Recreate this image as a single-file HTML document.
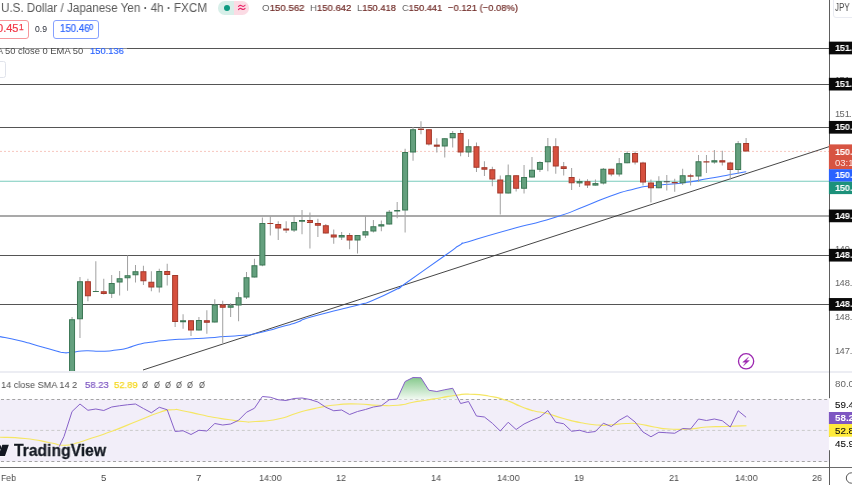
<!DOCTYPE html>
<html><head><meta charset="utf-8"><title>USDJPY chart</title>
<style>
html,body{margin:0;padding:0;background:#fff;}
body{width:852px;height:485px;overflow:hidden;position:relative;font-family:"Liberation Sans",sans-serif;}
#g{position:absolute;left:0;top:0;}
.t{position:absolute;white-space:nowrap;line-height:1;transform-origin:0 50%;will-change:transform;}
</style></head><body>
<svg id="g" width="852" height="485" viewBox="0 0 852 485">
<rect x="0" y="399.5" width="829" height="62.0" fill="#f2eef9"/>
<line x1="0" y1="48.5" x2="829" y2="48.5" stroke="#555" stroke-width="1.15"/>
<line x1="0" y1="84.5" x2="829" y2="84.5" stroke="#555" stroke-width="1.15"/>
<line x1="0" y1="127.5" x2="829" y2="127.5" stroke="#555" stroke-width="1.15"/>
<line x1="0" y1="216.0" x2="829" y2="216.0" stroke="#555" stroke-width="1.15"/>
<line x1="0" y1="255.5" x2="829" y2="255.5" stroke="#555" stroke-width="1.15"/>
<line x1="0" y1="304.5" x2="829" y2="304.5" stroke="#555" stroke-width="1.15"/>
<line x1="0" y1="181.3" x2="829" y2="181.3" stroke="#7acbbd" stroke-width="1.05"/>
<line x1="0" y1="151.4" x2="829" y2="151.4" stroke="#f7c6bf" stroke-width="1" stroke-dasharray="2 2"/>
<line x1="143" y1="369.99" x2="829.5" y2="146.53" stroke="#3c3c3c" stroke-width="0.95"/>
<path fill="none" stroke="#4379ff" stroke-width="1.05" stroke-linejoin="round" d="M0.00 336.60 C6.27 337.87 6.27 337.37 18.80 340.40 C31.33 343.43 25.10 342.20 37.60 345.70 C50.10 349.20 47.87 348.60 56.30 350.90 C64.73 353.20 58.50 352.03 62.90 352.60 C67.30 353.17 65.43 352.83 69.50 352.60 C73.57 352.37 69.47 352.53 75.10 351.90 C80.73 351.27 77.63 350.90 86.40 350.70 C95.17 350.50 91.40 351.53 101.40 351.30 C111.40 351.07 107.63 351.13 116.40 350.00 C125.17 348.87 120.17 349.80 127.70 347.90 C135.23 346.00 131.50 346.17 139.00 344.30 C146.50 342.43 140.27 343.73 150.20 342.30 C160.13 340.87 156.33 341.13 168.80 340.00 C181.27 338.87 175.10 339.60 187.60 338.90 C200.10 338.20 193.80 338.67 206.30 337.90 C218.80 337.13 212.57 337.47 225.10 336.60 C237.63 335.73 235.13 336.03 243.90 335.30 C252.67 334.57 243.90 335.83 251.40 334.40 C258.90 332.97 256.37 333.52 266.40 331.00 C276.43 328.48 271.47 329.68 281.50 326.85 C291.53 324.02 287.00 325.68 296.50 322.50 C306.00 319.32 295.50 321.63 310.00 317.30 C324.50 312.97 323.33 313.77 340.00 309.50 C356.67 305.23 349.17 307.50 360.00 304.50 C370.83 301.50 360.00 305.75 372.50 300.50 C385.00 295.25 386.67 294.33 397.50 288.75 C408.33 283.17 389.17 294.83 405.00 283.75 C420.83 272.67 426.67 268.42 445.00 255.50 C463.33 242.58 451.67 249.75 460.00 245.00 C468.33 240.25 453.33 246.42 470.00 241.25 C486.67 236.08 482.33 237.25 510.00 229.50 C537.67 221.75 528.00 225.75 553.00 218.00 C578.00 210.25 566.00 213.50 585.00 206.25 C604.00 199.00 593.33 202.08 610.00 196.25 C626.67 190.42 622.50 192.08 635.00 188.75 C647.50 185.42 639.17 187.50 647.50 186.25 C655.83 185.00 647.50 186.25 660.00 185.00 C672.50 183.75 668.33 184.75 685.00 182.50 C701.67 180.25 693.33 181.17 710.00 178.25 C726.67 175.33 722.92 175.92 735.00 173.75 C747.08 171.58 742.50 172.42 746.25 171.75"/>
<line x1="72.05" y1="317.0" x2="72.05" y2="372.0" stroke="#a0a0a0" stroke-width="1"/>
<rect x="69.55" y="319.75" width="5" height="51.75" fill="#64a07e" stroke="#3b7754" stroke-width="1"/>
<line x1="79.98" y1="277.0" x2="79.98" y2="338.0" stroke="#a0a0a0" stroke-width="1"/>
<rect x="77.48" y="281.75" width="5" height="37.0" fill="#64a07e" stroke="#3b7754" stroke-width="1"/>
<line x1="87.91" y1="278.75" x2="87.91" y2="301.25" stroke="#a0a0a0" stroke-width="1"/>
<rect x="85.41" y="281.75" width="5" height="14.0" fill="#d6503e" stroke="#a33a2c" stroke-width="1"/>
<line x1="95.84" y1="261.25" x2="95.84" y2="292.0" stroke="#a0a0a0" stroke-width="1"/>
<rect x="92.84" y="291.0" width="6" height="1.0" fill="#3b7754"/>
<line x1="103.77" y1="278.75" x2="103.77" y2="294.5" stroke="#a0a0a0" stroke-width="1"/>
<rect x="101.27" y="291.75" width="5" height="1.75" fill="#d6503e" stroke="#a33a2c" stroke-width="1"/>
<line x1="111.70" y1="275.0" x2="111.70" y2="298.0" stroke="#a0a0a0" stroke-width="1"/>
<rect x="109.20" y="283.5" width="5" height="9.75" fill="#64a07e" stroke="#3b7754" stroke-width="1"/>
<line x1="119.63" y1="271.0" x2="119.63" y2="295.5" stroke="#a0a0a0" stroke-width="1"/>
<rect x="117.13" y="278.75" width="5" height="3.25" fill="#64a07e" stroke="#3b7754" stroke-width="1"/>
<line x1="127.56" y1="255.5" x2="127.56" y2="290.75" stroke="#a0a0a0" stroke-width="1"/>
<rect x="125.06" y="275.75" width="5" height="2.0" fill="#64a07e" stroke="#3b7754" stroke-width="1"/>
<line x1="135.49" y1="265.0" x2="135.49" y2="282.5" stroke="#a0a0a0" stroke-width="1"/>
<rect x="132.99" y="271.75" width="5" height="3.0" fill="#64a07e" stroke="#3b7754" stroke-width="1"/>
<line x1="143.42" y1="265.75" x2="143.42" y2="285.0" stroke="#a0a0a0" stroke-width="1"/>
<rect x="140.92" y="271.75" width="5" height="9.0" fill="#d6503e" stroke="#a33a2c" stroke-width="1"/>
<line x1="151.35" y1="271.25" x2="151.35" y2="291.25" stroke="#a0a0a0" stroke-width="1"/>
<rect x="148.85" y="282.25" width="5" height="4.75" fill="#d6503e" stroke="#a33a2c" stroke-width="1"/>
<line x1="159.28" y1="268.75" x2="159.28" y2="292.5" stroke="#a0a0a0" stroke-width="1"/>
<rect x="156.78" y="271.5" width="5" height="15.5" fill="#64a07e" stroke="#3b7754" stroke-width="1"/>
<line x1="167.21" y1="263.75" x2="167.21" y2="285.5" stroke="#a0a0a0" stroke-width="1"/>
<rect x="164.71" y="271.5" width="5" height="3.0" fill="#d6503e" stroke="#a33a2c" stroke-width="1"/>
<line x1="175.14" y1="275.0" x2="175.14" y2="327.0" stroke="#a0a0a0" stroke-width="1"/>
<rect x="172.64" y="275.5" width="5" height="46.0" fill="#d6503e" stroke="#a33a2c" stroke-width="1"/>
<line x1="183.07" y1="314.25" x2="183.07" y2="328.75" stroke="#a0a0a0" stroke-width="1"/>
<rect x="180.07" y="320.25" width="6" height="2.0" fill="#3b7754"/>
<line x1="191.00" y1="320.25" x2="191.00" y2="336.0" stroke="#a0a0a0" stroke-width="1"/>
<rect x="188.50" y="320.75" width="5" height="9.25" fill="#d6503e" stroke="#a33a2c" stroke-width="1"/>
<line x1="198.93" y1="317.0" x2="198.93" y2="330.5" stroke="#a0a0a0" stroke-width="1"/>
<rect x="196.43" y="320.5" width="5" height="9.5" fill="#64a07e" stroke="#3b7754" stroke-width="1"/>
<line x1="206.86" y1="310.25" x2="206.86" y2="333.75" stroke="#a0a0a0" stroke-width="1"/>
<rect x="204.36" y="320.75" width="5" height="1.5" fill="#d6503e" stroke="#a33a2c" stroke-width="1"/>
<line x1="214.79" y1="299.25" x2="214.79" y2="322.5" stroke="#a0a0a0" stroke-width="1"/>
<rect x="212.29" y="305.0" width="5" height="17.0" fill="#64a07e" stroke="#3b7754" stroke-width="1"/>
<line x1="222.72" y1="300.75" x2="222.72" y2="343.0" stroke="#a0a0a0" stroke-width="1"/>
<rect x="220.22" y="305.0" width="5" height="2.25" fill="#d6503e" stroke="#a33a2c" stroke-width="1"/>
<line x1="230.65" y1="303.25" x2="230.65" y2="317.0" stroke="#a0a0a0" stroke-width="1"/>
<rect x="228.15" y="305.75" width="5" height="1.5" fill="#64a07e" stroke="#3b7754" stroke-width="1"/>
<line x1="238.58" y1="292.25" x2="238.58" y2="321.25" stroke="#a0a0a0" stroke-width="1"/>
<rect x="236.08" y="297.75" width="5" height="7.25" fill="#64a07e" stroke="#3b7754" stroke-width="1"/>
<line x1="246.51" y1="272.0" x2="246.51" y2="299.0" stroke="#a0a0a0" stroke-width="1"/>
<rect x="244.01" y="277.75" width="5" height="19.25" fill="#64a07e" stroke="#3b7754" stroke-width="1"/>
<line x1="254.44" y1="258.75" x2="254.44" y2="277.5" stroke="#a0a0a0" stroke-width="1"/>
<rect x="251.94" y="265.75" width="5" height="11.25" fill="#64a07e" stroke="#3b7754" stroke-width="1"/>
<line x1="262.37" y1="217.5" x2="262.37" y2="266.25" stroke="#a0a0a0" stroke-width="1"/>
<rect x="259.87" y="223.5" width="5" height="41.5" fill="#64a07e" stroke="#3b7754" stroke-width="1"/>
<line x1="270.30" y1="216.25" x2="270.30" y2="235.5" stroke="#a0a0a0" stroke-width="1"/>
<rect x="267.30" y="223.0" width="6" height="1.0" fill="#a33a2c"/>
<line x1="278.23" y1="221.25" x2="278.23" y2="240.0" stroke="#a0a0a0" stroke-width="1"/>
<rect x="275.73" y="224.5" width="5" height="3.5" fill="#d6503e" stroke="#a33a2c" stroke-width="1"/>
<line x1="286.16" y1="221.25" x2="286.16" y2="233.0" stroke="#a0a0a0" stroke-width="1"/>
<rect x="283.16" y="228.5" width="6" height="2.0" fill="#a33a2c"/>
<line x1="294.09" y1="215.75" x2="294.09" y2="232.0" stroke="#a0a0a0" stroke-width="1"/>
<rect x="291.59" y="222.5" width="5" height="7.5" fill="#64a07e" stroke="#3b7754" stroke-width="1"/>
<line x1="302.02" y1="210.0" x2="302.02" y2="234.25" stroke="#a0a0a0" stroke-width="1"/>
<rect x="299.02" y="220.0" width="6" height="1.75" fill="#3b7754"/>
<line x1="309.95" y1="212.5" x2="309.95" y2="248.5" stroke="#a0a0a0" stroke-width="1"/>
<rect x="307.45" y="220.5" width="5" height="2.0" fill="#d6503e" stroke="#a33a2c" stroke-width="1"/>
<line x1="317.88" y1="218.75" x2="317.88" y2="237.0" stroke="#a0a0a0" stroke-width="1"/>
<rect x="315.38" y="223.5" width="5" height="1.75" fill="#d6503e" stroke="#a33a2c" stroke-width="1"/>
<line x1="325.81" y1="224.0" x2="325.81" y2="233.5" stroke="#a0a0a0" stroke-width="1"/>
<rect x="323.31" y="225.75" width="5" height="7.25" fill="#d6503e" stroke="#a33a2c" stroke-width="1"/>
<line x1="333.74" y1="229.5" x2="333.74" y2="243.75" stroke="#a0a0a0" stroke-width="1"/>
<rect x="331.24" y="235.0" width="5" height="2.0" fill="#d6503e" stroke="#a33a2c" stroke-width="1"/>
<line x1="341.67" y1="232.0" x2="341.67" y2="240.0" stroke="#a0a0a0" stroke-width="1"/>
<rect x="339.17" y="235.5" width="5" height="1.5" fill="#64a07e" stroke="#3b7754" stroke-width="1"/>
<line x1="349.60" y1="233.0" x2="349.60" y2="249.25" stroke="#a0a0a0" stroke-width="1"/>
<rect x="347.10" y="235.5" width="5" height="4.5" fill="#d6503e" stroke="#a33a2c" stroke-width="1"/>
<line x1="357.53" y1="235.0" x2="357.53" y2="253.5" stroke="#a0a0a0" stroke-width="1"/>
<rect x="355.03" y="235.5" width="5" height="4.5" fill="#64a07e" stroke="#3b7754" stroke-width="1"/>
<line x1="365.46" y1="216.0" x2="365.46" y2="238.0" stroke="#a0a0a0" stroke-width="1"/>
<rect x="362.96" y="231.75" width="5" height="3.25" fill="#64a07e" stroke="#3b7754" stroke-width="1"/>
<line x1="373.39" y1="220.0" x2="373.39" y2="232.5" stroke="#a0a0a0" stroke-width="1"/>
<rect x="370.89" y="226.75" width="5" height="4.25" fill="#64a07e" stroke="#3b7754" stroke-width="1"/>
<line x1="381.32" y1="220.5" x2="381.32" y2="231.25" stroke="#a0a0a0" stroke-width="1"/>
<rect x="378.82" y="224.75" width="5" height="1.25" fill="#64a07e" stroke="#3b7754" stroke-width="1"/>
<line x1="389.25" y1="210.0" x2="389.25" y2="224.5" stroke="#a0a0a0" stroke-width="1"/>
<rect x="386.75" y="212.25" width="5" height="11.75" fill="#64a07e" stroke="#3b7754" stroke-width="1"/>
<line x1="397.18" y1="202.0" x2="397.18" y2="218.25" stroke="#a0a0a0" stroke-width="1"/>
<rect x="394.18" y="210.0" width="6" height="1.5" fill="#3b7754"/>
<line x1="405.11" y1="148.75" x2="405.11" y2="232.5" stroke="#a0a0a0" stroke-width="1"/>
<rect x="402.61" y="152.5" width="5" height="57.5" fill="#64a07e" stroke="#3b7754" stroke-width="1"/>
<line x1="413.04" y1="127.0" x2="413.04" y2="160.75" stroke="#a0a0a0" stroke-width="1"/>
<rect x="410.54" y="129.75" width="5" height="22.25" fill="#64a07e" stroke="#3b7754" stroke-width="1"/>
<line x1="420.97" y1="121.25" x2="420.97" y2="134.25" stroke="#a0a0a0" stroke-width="1"/>
<rect x="417.97" y="128.6" width="6" height="1.4000000000000057" fill="#a33a2c"/>
<line x1="428.90" y1="129.25" x2="428.90" y2="145.5" stroke="#a0a0a0" stroke-width="1"/>
<rect x="426.40" y="129.75" width="5" height="14.25" fill="#d6503e" stroke="#a33a2c" stroke-width="1"/>
<line x1="436.83" y1="138.25" x2="436.83" y2="152.5" stroke="#a0a0a0" stroke-width="1"/>
<rect x="433.83" y="144.6" width="6" height="2.1500000000000057" fill="#a33a2c"/>
<line x1="444.76" y1="138.25" x2="444.76" y2="157.5" stroke="#a0a0a0" stroke-width="1"/>
<rect x="442.26" y="138.75" width="5" height="7.25" fill="#64a07e" stroke="#3b7754" stroke-width="1"/>
<line x1="452.69" y1="131.0" x2="452.69" y2="147.5" stroke="#a0a0a0" stroke-width="1"/>
<rect x="450.19" y="133.5" width="5" height="4.25" fill="#64a07e" stroke="#3b7754" stroke-width="1"/>
<line x1="460.62" y1="130.0" x2="460.62" y2="156.25" stroke="#a0a0a0" stroke-width="1"/>
<rect x="458.12" y="133.5" width="5" height="18.5" fill="#d6503e" stroke="#a33a2c" stroke-width="1"/>
<line x1="468.55" y1="139.25" x2="468.55" y2="157.0" stroke="#a0a0a0" stroke-width="1"/>
<rect x="466.05" y="146.75" width="5" height="5.25" fill="#64a07e" stroke="#3b7754" stroke-width="1"/>
<line x1="476.48" y1="142.5" x2="476.48" y2="172.0" stroke="#a0a0a0" stroke-width="1"/>
<rect x="473.98" y="146.75" width="5" height="20.5" fill="#d6503e" stroke="#a33a2c" stroke-width="1"/>
<line x1="484.41" y1="161.25" x2="484.41" y2="176.0" stroke="#a0a0a0" stroke-width="1"/>
<rect x="481.91" y="167.7" width="5" height="1.5" fill="#d6503e" stroke="#a33a2c" stroke-width="1"/>
<line x1="492.34" y1="166.75" x2="492.34" y2="186.25" stroke="#a0a0a0" stroke-width="1"/>
<rect x="489.84" y="169.75" width="5" height="9.25" fill="#d6503e" stroke="#a33a2c" stroke-width="1"/>
<line x1="500.27" y1="175.5" x2="500.27" y2="214.5" stroke="#a0a0a0" stroke-width="1"/>
<rect x="497.77" y="180.0" width="5" height="13.0" fill="#d6503e" stroke="#a33a2c" stroke-width="1"/>
<line x1="508.20" y1="164.5" x2="508.20" y2="193.5" stroke="#a0a0a0" stroke-width="1"/>
<rect x="505.70" y="175.75" width="5" height="17.25" fill="#64a07e" stroke="#3b7754" stroke-width="1"/>
<line x1="516.13" y1="175.25" x2="516.13" y2="191.5" stroke="#a0a0a0" stroke-width="1"/>
<rect x="513.63" y="175.75" width="5" height="12.5" fill="#d6503e" stroke="#a33a2c" stroke-width="1"/>
<line x1="524.06" y1="165.0" x2="524.06" y2="193.5" stroke="#a0a0a0" stroke-width="1"/>
<rect x="521.56" y="177.5" width="5" height="10.75" fill="#64a07e" stroke="#3b7754" stroke-width="1"/>
<line x1="531.99" y1="157.0" x2="531.99" y2="177.5" stroke="#a0a0a0" stroke-width="1"/>
<rect x="529.49" y="170.25" width="5" height="6.75" fill="#64a07e" stroke="#3b7754" stroke-width="1"/>
<line x1="539.92" y1="161.25" x2="539.92" y2="172.0" stroke="#a0a0a0" stroke-width="1"/>
<rect x="537.42" y="162.5" width="5" height="6.75" fill="#64a07e" stroke="#3b7754" stroke-width="1"/>
<line x1="547.85" y1="138.0" x2="547.85" y2="171.25" stroke="#a0a0a0" stroke-width="1"/>
<rect x="545.35" y="146.75" width="5" height="15.0" fill="#64a07e" stroke="#3b7754" stroke-width="1"/>
<line x1="555.78" y1="138.25" x2="555.78" y2="173.75" stroke="#a0a0a0" stroke-width="1"/>
<rect x="553.28" y="146.75" width="5" height="19.25" fill="#d6503e" stroke="#a33a2c" stroke-width="1"/>
<line x1="563.71" y1="162.0" x2="563.71" y2="175.5" stroke="#a0a0a0" stroke-width="1"/>
<rect x="561.21" y="166.8" width="5" height="1.6999999999999886" fill="#d6503e" stroke="#a33a2c" stroke-width="1"/>
<line x1="571.64" y1="168.0" x2="571.64" y2="190.0" stroke="#a0a0a0" stroke-width="1"/>
<rect x="569.14" y="177.5" width="5" height="5.25" fill="#d6503e" stroke="#a33a2c" stroke-width="1"/>
<line x1="579.57" y1="178.75" x2="579.57" y2="187.0" stroke="#a0a0a0" stroke-width="1"/>
<rect x="577.07" y="181.6" width="5" height="1.3000000000000114" fill="#64a07e" stroke="#3b7754" stroke-width="1"/>
<line x1="587.50" y1="179.25" x2="587.50" y2="188.0" stroke="#a0a0a0" stroke-width="1"/>
<rect x="585.00" y="181.75" width="5" height="3.25" fill="#d6503e" stroke="#a33a2c" stroke-width="1"/>
<line x1="595.43" y1="179.5" x2="595.43" y2="185.6" stroke="#a0a0a0" stroke-width="1"/>
<rect x="592.93" y="183.6" width="5" height="1.5" fill="#64a07e" stroke="#3b7754" stroke-width="1"/>
<line x1="603.36" y1="168.0" x2="603.36" y2="184.5" stroke="#a0a0a0" stroke-width="1"/>
<rect x="600.86" y="169.25" width="5" height="13.75" fill="#64a07e" stroke="#3b7754" stroke-width="1"/>
<line x1="611.29" y1="168.75" x2="611.29" y2="176.25" stroke="#a0a0a0" stroke-width="1"/>
<rect x="608.79" y="169.25" width="5" height="4.75" fill="#d6503e" stroke="#a33a2c" stroke-width="1"/>
<line x1="619.22" y1="158.0" x2="619.22" y2="176.5" stroke="#a0a0a0" stroke-width="1"/>
<rect x="616.72" y="163.75" width="5" height="10.25" fill="#64a07e" stroke="#3b7754" stroke-width="1"/>
<line x1="627.15" y1="151.25" x2="627.15" y2="163.25" stroke="#a0a0a0" stroke-width="1"/>
<rect x="624.65" y="153.5" width="5" height="9.25" fill="#64a07e" stroke="#3b7754" stroke-width="1"/>
<line x1="635.08" y1="151.25" x2="635.08" y2="164.5" stroke="#a0a0a0" stroke-width="1"/>
<rect x="632.58" y="153.5" width="5" height="8.5" fill="#d6503e" stroke="#a33a2c" stroke-width="1"/>
<line x1="643.01" y1="161.75" x2="643.01" y2="185.5" stroke="#a0a0a0" stroke-width="1"/>
<rect x="640.51" y="163.0" width="5" height="19.0" fill="#d6503e" stroke="#a33a2c" stroke-width="1"/>
<line x1="650.94" y1="179.5" x2="650.94" y2="202.5" stroke="#a0a0a0" stroke-width="1"/>
<rect x="648.44" y="183.0" width="5" height="4.75" fill="#d6503e" stroke="#a33a2c" stroke-width="1"/>
<line x1="658.87" y1="176.25" x2="658.87" y2="188.25" stroke="#a0a0a0" stroke-width="1"/>
<rect x="656.37" y="181.75" width="5" height="6.0" fill="#64a07e" stroke="#3b7754" stroke-width="1"/>
<line x1="666.80" y1="175.0" x2="666.80" y2="190.5" stroke="#a0a0a0" stroke-width="1"/>
<rect x="663.80" y="181.25" width="6" height="1" fill="#4a4a4a"/>
<line x1="674.73" y1="178.75" x2="674.73" y2="191.75" stroke="#a0a0a0" stroke-width="1"/>
<rect x="671.73" y="182.0" width="6" height="1.25" fill="#a33a2c"/>
<line x1="682.66" y1="168.75" x2="682.66" y2="185.0" stroke="#a0a0a0" stroke-width="1"/>
<rect x="680.16" y="175.75" width="5" height="7.0" fill="#64a07e" stroke="#3b7754" stroke-width="1"/>
<line x1="690.59" y1="173.75" x2="690.59" y2="185.5" stroke="#a0a0a0" stroke-width="1"/>
<rect x="687.59" y="175.25" width="6" height="1.5" fill="#a33a2c"/>
<line x1="698.52" y1="155.0" x2="698.52" y2="182.0" stroke="#a0a0a0" stroke-width="1"/>
<rect x="696.02" y="161.75" width="5" height="14.25" fill="#64a07e" stroke="#3b7754" stroke-width="1"/>
<line x1="706.45" y1="155.0" x2="706.45" y2="173.0" stroke="#a0a0a0" stroke-width="1"/>
<rect x="703.45" y="161.25" width="6" height="1.25" fill="#a33a2c"/>
<line x1="714.38" y1="150.0" x2="714.38" y2="163.75" stroke="#a0a0a0" stroke-width="1"/>
<rect x="711.88" y="160.75" width="5" height="1.25" fill="#64a07e" stroke="#3b7754" stroke-width="1"/>
<line x1="722.31" y1="150.75" x2="722.31" y2="165.5" stroke="#a0a0a0" stroke-width="1"/>
<rect x="719.81" y="160.75" width="5" height="1.25" fill="#d6503e" stroke="#a33a2c" stroke-width="1"/>
<line x1="730.24" y1="161.75" x2="730.24" y2="179.5" stroke="#a0a0a0" stroke-width="1"/>
<rect x="727.74" y="163.0" width="5" height="6.5" fill="#d6503e" stroke="#a33a2c" stroke-width="1"/>
<line x1="738.17" y1="141.0" x2="738.17" y2="173.75" stroke="#a0a0a0" stroke-width="1"/>
<rect x="735.67" y="143.75" width="5" height="25.75" fill="#64a07e" stroke="#3b7754" stroke-width="1"/>
<line x1="746.10" y1="138.0" x2="746.10" y2="151.5" stroke="#a0a0a0" stroke-width="1"/>
<rect x="743.60" y="143.5" width="5" height="7.5" fill="#d6503e" stroke="#a33a2c" stroke-width="1"/>
<rect x="0" y="371" width="852" height="2" fill="#ecedf3"/>
<line x1="1" y1="399.5" x2="829" y2="399.5" stroke="#a4a4a4" stroke-width="1" stroke-dasharray="3 2.6"/>
<line x1="1" y1="430.4" x2="829" y2="430.4" stroke="#cacaca" stroke-width="1" stroke-dasharray="3 2.6"/>
<line x1="1" y1="461.5" x2="829" y2="461.5" stroke="#a4a4a4" stroke-width="1" stroke-dasharray="3 2.6"/>
<defs><linearGradient id="og" x1="0" y1="0" x2="0" y2="1" gradientUnits="userSpaceOnUse"><stop offset="0" stop-color="#4caf50" stop-opacity="0"/></linearGradient><linearGradient id="ob" x1="0" y1="376" x2="0" y2="399.5" gradientUnits="userSpaceOnUse"><stop offset="0" stop-color="#7fc686"/><stop offset="1" stop-color="#f3faf3"/></linearGradient></defs>
<polygon fill="url(#ob)" points="391.89,399.50 397.18,399.00 405.11,381.50 413.04,377.50 420.97,377.75 428.90,390.25 436.83,391.50 444.76,389.75 452.69,388.25 458.54,399.50"/>
<path fill="none" stroke="#f5e663" stroke-width="1.2" stroke-linejoin="round" d="M0.00 437.25 C8.33 437.67 8.33 436.67 25.00 438.50 C41.67 440.33 37.50 440.50 50.00 442.75 C62.50 445.00 54.17 445.00 62.50 445.25 C70.83 445.50 66.67 445.42 75.00 443.50 C83.33 441.58 75.00 443.67 87.50 439.50 C100.00 435.33 95.83 437.17 112.50 431.00 C129.17 424.83 121.67 427.25 137.50 421.00 C153.33 414.75 148.33 416.00 160.00 412.25 C171.67 408.50 165.00 410.25 172.50 409.75 C180.00 409.25 173.33 409.17 182.50 410.75 C191.67 412.33 189.83 412.33 200.00 414.50 C210.17 416.67 203.67 415.58 213.00 417.25 C222.33 418.92 218.00 418.08 228.00 419.50 C238.00 420.92 233.83 420.83 243.00 421.50 C252.17 422.17 243.83 422.33 255.50 421.50 C267.17 420.67 263.83 421.92 278.00 419.00 C292.17 416.08 284.67 416.50 298.00 412.75 C311.33 409.00 304.67 410.42 318.00 407.75 C331.33 405.08 324.67 406.00 338.00 404.75 C351.33 403.50 344.67 403.83 358.00 404.00 C371.33 404.17 364.67 404.83 378.00 405.25 C391.33 405.67 386.33 406.25 398.00 405.25 C409.67 404.25 403.67 403.92 413.00 402.25 C422.33 400.58 416.67 401.75 426.00 400.25 C435.33 398.75 431.00 399.42 441.00 397.75 C451.00 396.08 446.42 396.42 456.00 395.25 C465.58 394.08 458.92 394.00 469.75 394.25 C480.58 394.50 476.42 394.00 488.50 396.00 C500.58 398.00 495.17 396.75 506.00 400.25 C516.83 403.75 511.83 403.00 521.00 406.50 C530.17 410.00 524.75 408.42 533.50 410.75 C542.25 413.08 537.25 410.92 547.25 413.50 C557.25 416.08 552.25 415.42 563.50 418.50 C574.75 421.58 569.33 420.58 581.00 422.75 C592.67 424.92 588.50 424.33 598.50 425.00 C608.50 425.67 601.83 425.25 611.00 424.75 C620.17 424.25 616.67 423.75 626.00 423.50 C635.33 423.25 629.67 422.83 639.00 424.00 C648.33 425.17 644.00 425.33 654.00 427.00 C664.00 428.67 657.33 428.33 669.00 429.00 C680.67 429.67 676.50 429.67 689.00 429.00 C701.50 428.33 694.00 427.83 706.50 427.00 C719.00 426.17 713.17 426.92 726.50 426.50 C739.83 426.08 739.83 426.00 746.50 425.75"/>
<polyline fill="none" stroke="#8761c9" stroke-width="1.0" stroke-linejoin="round" points="59.00,447 64.00,436.5 72.05,411.5 79.98,404 87.91,410.25 95.84,409 103.77,410.5 111.70,407 119.63,405.75 127.56,404.75 135.49,404 143.42,408.5 151.35,412.75 159.28,407.25 167.21,409.75 175.14,431.5 183.07,430.75 191.00,434.5 198.93,430.25 206.86,431 214.79,423.5 222.72,425 230.65,424 238.58,420.25 246.51,412.25 254.44,408.25 262.37,396.5 270.30,397.25 278.23,399.75 286.16,400.5 294.09,398.5 302.02,398 309.95,399.5 317.88,402 325.81,407.25 333.74,410.75 341.67,410 349.60,414.5 357.53,411.5 365.46,409.5 373.39,407 381.32,405.75 389.25,399.75 397.18,399 405.11,381.5 413.04,377.5 420.97,377.75 428.90,390.25 436.83,391.5 444.76,389.75 452.69,388.25 460.62,403.5 468.55,401.5 476.48,416 484.41,417 492.34,423.25 500.27,431 508.20,422.25 516.13,429.5 524.06,424 531.99,420.25 539.92,417 547.85,410.5 555.78,422.25 563.71,423.75 571.64,431.25 579.57,430.25 587.50,432.5 595.43,431.5 603.36,423.25 611.29,426.5 619.22,420.25 627.15,415.75 635.08,422 643.01,432 650.94,436.75 658.87,432.25 666.80,432.75 674.73,433.25 682.66,428.5 690.59,429 698.52,419 706.45,420.5 714.38,419 722.31,420.75 730.24,427 738.17,410.75 746.10,417.25"/>
<line x1="0" y1="467.5" x2="852" y2="467.5" stroke="#6a6a6a" stroke-width="1"/>
<circle cx="746.1" cy="361.3" r="7.6" fill="#fff" stroke="#9c27b0" stroke-width="1.3"/>
<path d="M748.5 357.2 L742.7 362.2 L745.9 362.2 L743.5 365.7 L749.4 360.6 L746.2 360.6 Z" fill="#9c27b0" stroke="#9c27b0" stroke-width="0.4" stroke-linejoin="round"/>
</svg>
<div style="position:absolute;left:0;top:44px;width:127px;height:13px;background:rgba(255,255,255,.35)"></div>
<div style="position:absolute;left:218.3px;top:1.3px;width:15.4px;height:13.4px;background:#d8efe9;border-radius:6.7px 0 0 6.7px;"></div>
<div style="position:absolute;left:233.7px;top:1.3px;width:15.5px;height:13.4px;background:#fbdbe4;border-radius:0 6.7px 6.7px 0;"></div>
<div style="position:absolute;left:224px;top:4.5px;width:6.4px;height:6.4px;border-radius:50%;background:#0e9b81;"></div>
<svg style="position:absolute;left:236.6px;top:3.3px" width="10" height="9" viewBox="0 0 11 10"><path d="M1.6 3.9 C2.8 2.2 4.2 2.4 5.3 3.2 C6.4 4 7.6 4 8.9 2.5 M1.6 7.3 C2.8 5.6 4.2 5.8 5.3 6.6 C6.4 7.4 7.6 7.4 8.9 5.9" fill="none" stroke="#e91e63" stroke-width="1.2" stroke-linecap="round"/></svg>
<div class="t" style="left:1.30px;top:1.79px;font-size:12.3px;color:#585858;transform:scaleX(0.9476);">U.S. Dollar / Japanese Yen <b>·</b> 4h <b>·</b> FXCM</div>
<div class="t" style="left:261.70px;top:2.60px;font-size:9.8px;color:#666;transform:scaleX(0.9873);">O<span style="color:#6e2824;-webkit-text-stroke:.2px #6e2824">150.562</span></div>
<div class="t" style="left:309.80px;top:2.60px;font-size:9.8px;color:#666;transform:scaleX(0.9741);">H<span style="color:#6e2824;-webkit-text-stroke:.2px #6e2824">150.642</span></div>
<div class="t" style="left:356.90px;top:2.60px;font-size:9.8px;color:#666;transform:scaleX(0.9517);">L<span style="color:#6e2824;-webkit-text-stroke:.2px #6e2824">150.418</span></div>
<div class="t" style="left:401.80px;top:2.60px;font-size:9.8px;color:#666;transform:scaleX(0.9458);">C<span style="color:#6e2824;-webkit-text-stroke:.2px #6e2824">150.441</span></div>
<div class="t" style="left:448.00px;top:2.60px;font-size:9.8px;color:#6e2824;transform:scaleX(0.9588);-webkit-text-stroke:.2px #6e2824;">−0.121 (−0.08%)</div>
<div style="position:absolute;left:-10px;top:19.9px;width:36.5px;height:17.2px;border:1px solid #f7979b;border-radius:3px;"></div>
<div class="t" style="left:-2.60px;top:23.77px;font-size:10.2px;color:#f23645;transform:scaleX(1.0830);-webkit-text-stroke:.2px #f23645;">0.45</div>
<div class="t" style="left:18.70px;top:23.27px;font-size:8.3px;color:#f23645;-webkit-text-stroke:.25px #f23645;">1</div>
<div class="t" style="left:35.30px;top:24.92px;font-size:8.6px;color:#2a2e39;transform:scaleX(0.9787);">0.9</div>
<div style="position:absolute;left:53.1px;top:19.9px;width:44.4px;height:17.2px;border:1px solid #86a1ff;border-radius:3px;"></div>
<div class="t" style="left:59.90px;top:23.77px;font-size:10.2px;color:#2962ff;transform:scaleX(0.9488);-webkit-text-stroke:.2px #2962ff;">150.46</div>
<div class="t" style="left:89.40px;top:23.27px;font-size:8.3px;color:#2962ff;transform:scaleX(0.9000);-webkit-text-stroke:.25px #2962ff;">0</div>
<div class="t" style="left:-3.20px;top:46.14px;font-size:9.4px;color:#4c4c4c;transform:scaleX(0.9500);">A</div>
<div class="t" style="left:4.70px;top:46.14px;font-size:9.4px;color:#4c4c4c;">50 close 0 EMA 50</div>
<div class="t" style="left:90.00px;top:46.14px;font-size:9.4px;color:#2962ff;transform:scaleX(0.9947);-webkit-text-stroke:.15px #2962ff;">150.136</div>
<div style="position:absolute;left:-6px;top:61.4px;width:9.9px;height:14.4px;border:1px solid #e0e3eb;border-radius:2.5px;"></div>
<div class="t" style="left:1.20px;top:379.82px;font-size:9.9px;color:#4c4c4c;transform:scaleX(0.9267);">14 close SMA 14 2</div>
<div class="t" style="left:85.00px;top:379.82px;font-size:9.9px;color:#7e57c2;transform:scaleX(0.9607);-webkit-text-stroke:.2px #7e57c2;">58.23</div>
<div class="t" style="left:113.80px;top:379.82px;font-size:9.9px;color:#f5d824;transform:scaleX(0.9566);-webkit-text-stroke:.25px #f5d824;">52.89</div>
<div class="t" style="left:142.49px;top:380.58px;font-size:9.0px;color:#4c4c4c;transform:scaleX(0.8600);">Ø</div>
<div class="t" style="left:153.74px;top:380.58px;font-size:9.0px;color:#4c4c4c;transform:scaleX(0.8600);">Ø</div>
<div class="t" style="left:164.99px;top:380.58px;font-size:9.0px;color:#4c4c4c;transform:scaleX(0.8600);">Ø</div>
<div class="t" style="left:176.24px;top:380.58px;font-size:9.0px;color:#4c4c4c;transform:scaleX(0.8600);">Ø</div>
<div class="t" style="left:187.49px;top:380.58px;font-size:9.0px;color:#4c4c4c;transform:scaleX(0.8600);">Ø</div>
<div class="t" style="left:198.74px;top:380.58px;font-size:9.0px;color:#4c4c4c;transform:scaleX(0.8600);">Ø</div>
<svg style="position:absolute;left:0;top:443px" width="12" height="16" viewBox="0 0 12 16"><path d="M2.3 1.8 H8.9 L5 12.9 H-1.6 Z" fill="#131722" stroke="#fff" stroke-opacity=".75" stroke-width="1.2" paint-order="stroke"/><circle cx="-1.5" cy="4.4" r="2.6" fill="#131722"/></svg>
<div class="t" style="left:14.40px;top:442.54px;font-size:15.9px;color:#131722;font-weight:bold;transform:scaleX(0.9864);-webkit-text-stroke:.3px #131722;text-shadow:0 0 2px #fff,0 0 2px #fff,0 0 3px #fff;">TradingView</div>
<div style="position:absolute;left:830px;top:0;width:22px;height:467px;background:#fff;"></div>
<div style="position:absolute;left:828.9px;top:0;width:1.1px;height:485px;background:#5e5e5e;"></div>
<div style="position:absolute;left:830px;top:371px;width:22px;height:2px;background:#ecedf3;"></div>
<div style="position:absolute;left:832.5px;top:-3px;width:30px;height:19.3px;border:1px solid #e9ebf2;border-radius:3px;"></div>
<div class="t" style="left:834.70px;top:2.63px;font-size:10px;color:#4a4a4a;transform:scaleX(0.7961);">JPY</div>
<div class="t" style="left:835.00px;top:41.44px;font-size:9.4px;color:#666;"><span style="letter-spacing:-0.8px">1</span>5<span style="letter-spacing:-0.8px">1</span>.</div>
<div class="t" style="left:835.00px;top:75.24px;font-size:9.4px;color:#666;"><span style="letter-spacing:-0.8px">1</span>5<span style="letter-spacing:-0.8px">1</span>.</div>
<div class="t" style="left:835.00px;top:109.04px;font-size:9.4px;color:#666;"><span style="letter-spacing:-0.8px">1</span>5<span style="letter-spacing:-0.8px">1</span>.</div>
<div class="t" style="left:835.00px;top:142.84px;font-size:9.4px;color:#666;"><span style="letter-spacing:-0.8px">1</span>50.</div>
<div class="t" style="left:835.00px;top:244.24px;font-size:9.4px;color:#666;"><span style="letter-spacing:-0.8px">1</span>49.</div>
<div class="t" style="left:835.00px;top:278.04px;font-size:9.4px;color:#666;"><span style="letter-spacing:-0.8px">1</span>48.</div>
<div class="t" style="left:835.00px;top:311.84px;font-size:9.4px;color:#666;"><span style="letter-spacing:-0.8px">1</span>48.</div>
<div class="t" style="left:835.00px;top:345.64px;font-size:9.4px;color:#666;"><span style="letter-spacing:-0.8px">1</span>47.</div>
<svg style="position:absolute;left:828px;top:40px" width="24" height="15"><rect x="0.9" y="1.65" width="24" height="12.7" fill="#0a0a0a"/></svg><div class="t" style="left:835.20px;top:43.00px;font-size:9.8px;color:#fff;font-weight:bold;transform:scaleX(0.9700);"><span style="letter-spacing:-0.8px">1</span>5<span style="letter-spacing:-0.8px">1</span>.</div>
<svg style="position:absolute;left:828px;top:76px" width="24" height="15"><rect x="0.9" y="1.80" width="24" height="12.7" fill="#0a0a0a"/></svg><div class="t" style="left:835.20px;top:79.15px;font-size:9.8px;color:#fff;font-weight:bold;transform:scaleX(0.9700);"><span style="letter-spacing:-0.8px">1</span>5<span style="letter-spacing:-0.8px">1</span>.</div>
<svg style="position:absolute;left:828px;top:119px" width="24" height="15"><rect x="0.9" y="1.95" width="24" height="12.7" fill="#0a0a0a"/></svg><div class="t" style="left:835.20px;top:122.30px;font-size:9.8px;color:#fff;font-weight:bold;transform:scaleX(0.9700);"><span style="letter-spacing:-0.8px">1</span>50.</div>
<svg style="position:absolute;left:828px;top:208px" width="24" height="15"><rect x="0.9" y="1.55" width="24" height="12.7" fill="#0a0a0a"/></svg><div class="t" style="left:835.20px;top:210.90px;font-size:9.8px;color:#fff;font-weight:bold;transform:scaleX(0.9700);"><span style="letter-spacing:-0.8px">1</span>49.</div>
<svg style="position:absolute;left:828px;top:247px" width="24" height="15"><rect x="0.9" y="1.85" width="24" height="12.7" fill="#0a0a0a"/></svg><div class="t" style="left:835.20px;top:250.20px;font-size:9.8px;color:#fff;font-weight:bold;transform:scaleX(0.9700);"><span style="letter-spacing:-0.8px">1</span>48.</div>
<svg style="position:absolute;left:828px;top:297px" width="24" height="15"><rect x="0.9" y="1.05" width="24" height="12.7" fill="#0a0a0a"/></svg><div class="t" style="left:835.20px;top:299.40px;font-size:9.8px;color:#fff;font-weight:bold;transform:scaleX(0.9700);"><span style="letter-spacing:-0.8px">1</span>48.</div>
<svg style="position:absolute;left:828px;top:143px" width="24" height="27"><rect x="0.9" y="1.40" width="24" height="24.8" fill="#d75442"/></svg><div class="t" style="left:835.20px;top:146.70px;font-size:9.8px;color:#fff;font-weight:bold;transform:scaleX(0.9700);"><span style="letter-spacing:-0.8px">1</span>50.</div>
<div class="t" style="left:835.30px;top:157.66px;font-size:9.5px;color:#fde4e0;">03:<span style="letter-spacing:-0.8px">1</span></div>
<svg style="position:absolute;left:828px;top:168px" width="24" height="15"><rect x="0.9" y="1.20" width="24" height="12.5" fill="#2962ff"/></svg><div class="t" style="left:835.20px;top:170.45px;font-size:9.8px;color:#fff;font-weight:bold;transform:scaleX(0.9700);"><span style="letter-spacing:-0.8px">1</span>50.</div>
<svg style="position:absolute;left:828px;top:180px" width="24" height="15"><rect x="0.9" y="1.70" width="24" height="12.4" fill="#1c917a"/></svg><div class="t" style="left:835.20px;top:182.90px;font-size:9.8px;color:#fff;font-weight:bold;transform:scaleX(0.9700);"><span style="letter-spacing:-0.8px">1</span>50.</div>
<div class="t" style="left:835.40px;top:379.47px;font-size:9.6px;color:#666;transform:scaleX(1.0200);">80.0</div>
<svg style="position:absolute;left:828px;top:397px" width="24" height="16"><rect x="0.9" y="1.20" width="24" height="13.8" fill="#fff"/></svg>
<div class="t" style="left:835.40px;top:399.97px;font-size:9.6px;color:#111;transform:scaleX(1.0200);-webkit-text-stroke:.12px #111;">59.4</div>
<svg style="position:absolute;left:828px;top:435px" width="24" height="16"><rect x="0.9" y="1.70" width="24" height="13.5" fill="#fff"/></svg>
<div class="t" style="left:835.40px;top:439.07px;font-size:9.6px;color:#111;transform:scaleX(1.0200);-webkit-text-stroke:.12px #111;">45.9</div>
<svg style="position:absolute;left:828px;top:411px" width="24" height="15"><rect x="0.9" y="1.00" width="24" height="12" fill="#7e57c2"/></svg>
<div class="t" style="left:835.40px;top:412.97px;font-size:9.6px;color:#fff;font-weight:bold;transform:scaleX(1.0200);">58.2</div>
<svg style="position:absolute;left:828px;top:423px" width="24" height="15"><rect x="0.9" y="1.00" width="24" height="12.7" fill="#ffeb3b"/></svg>
<div class="t" style="left:835.40px;top:426.27px;font-size:9.6px;color:#111;transform:scaleX(1.0200);-webkit-text-stroke:.12px #111;">52.8</div>
<div style="position:absolute;left:0;top:468.1px;width:852px;height:17px;background:#fff;"></div>
<div style="position:absolute;left:828.9px;top:467px;width:1.1px;height:18px;background:#5e5e5e;"></div>
<div class="t" style="left:1.30px;top:473.27px;font-size:9.6px;color:#4a4a4a;transform:scaleX(0.9068);">Feb</div>
<div class="t" style="left:100.99px;top:473.27px;font-size:9.6px;color:#4a4a4a;transform:scaleX(0.9400);">5</div>
<div class="t" style="left:196.19px;top:473.27px;font-size:9.6px;color:#4a4a4a;transform:scaleX(0.9400);">7</div>
<div class="t" style="left:258.91px;top:473.27px;font-size:9.6px;color:#4a4a4a;transform:scaleX(0.9400);">14:00</div>
<div class="t" style="left:336.48px;top:473.27px;font-size:9.6px;color:#4a4a4a;transform:scaleX(0.9400);">12</div>
<div class="t" style="left:431.48px;top:473.27px;font-size:9.6px;color:#4a4a4a;transform:scaleX(0.9400);">14</div>
<div class="t" style="left:496.81px;top:473.27px;font-size:9.6px;color:#4a4a4a;transform:scaleX(0.9400);">14:00</div>
<div class="t" style="left:574.28px;top:473.27px;font-size:9.6px;color:#4a4a4a;transform:scaleX(0.9400);">19</div>
<div class="t" style="left:669.18px;top:473.27px;font-size:9.6px;color:#4a4a4a;transform:scaleX(0.9400);">21</div>
<div class="t" style="left:734.61px;top:473.27px;font-size:9.6px;color:#4a4a4a;transform:scaleX(0.9400);">14:00</div>
<div class="t" style="left:811.78px;top:473.27px;font-size:9.6px;color:#4a4a4a;transform:scaleX(0.9400);">26</div>
<svg style="position:absolute;left:843px;top:470px" width="9" height="15" viewBox="0 0 9 15"><circle cx="8.5" cy="8" r="5.2" fill="none" stroke="#555" stroke-width="1"/></svg>
</body></html>
